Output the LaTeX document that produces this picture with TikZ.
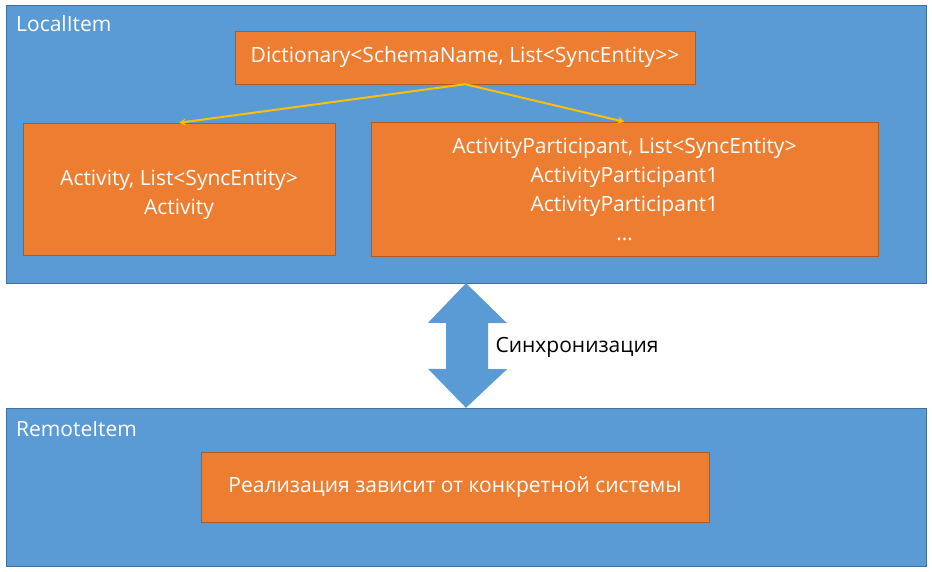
\documentclass[tikz,border=0pt]{standalone}
\usepackage{fontspec}
\setmainfont{Open Sans}
\usepackage{tikz}
\usetikzlibrary{positioning}

\definecolor{itemblue}{HTML}{5B9BD5}
\definecolor{itemblueline}{HTML}{41719C}
\definecolor{boxorange}{HTML}{ED7D31}
\definecolor{boxorangeline}{HTML}{AE5A21}
\definecolor{linkyellow}{HTML}{FFC000}

\begin{document}
\begin{tikzpicture}[x=1pt, y=-1pt, >=stealth,
  item/.style={draw=itemblueline, fill=itemblue, inner sep=0pt},
  entry/.style={draw=boxorangeline, fill=boxorange, inner sep=0pt, text=white, align=center, font=\fontsize{21}{29}\selectfont},
  title/.style={anchor=west, text=white, inner sep=0pt, font=\fontsize{21}{24}\selectfont},
  link/.style={->, linkyellow, line width=2pt}]
  \useasboundingbox (0,0) rectangle (932,572);

  % Draw outer items
  \node[item, minimum width=920, minimum height=278] (local) at (466,144) {};
  \node[item, minimum width=920, minimum height=158] (remote) at (466,487) {};
  \node[title] (localname) at (16,24) {LocalItem};
  \node[title] (remotename) at (16,429) {RemoteItem};

  % Draw dictionary and its entries
  \node[entry, minimum width=460, minimum height=53] (dict) at (465,57.5) {Dictionary<SchemaName, List<SyncEntity>{}>};
  \node[entry, minimum width=312, minimum height=132] (activity) at (179,189) {\rule{0pt}{27pt}Activity, List<SyncEntity>\\Activity};
  \node[entry, minimum width=507, minimum height=134] (participant) at (624.5,189) {ActivityParticipant, List<SyncEntity>\\ActivityParticipant1\\ActivityParticipant1\\\ldots};
  \node[entry, minimum width=508, minimum height=70] (impl) at (455,487) {Реализация зависит от конкретной системы};

  % Links from dictionary
  \draw[link] (dict.south) -- (activity.north);
  \draw[link] (dict.south) -- (participant.north);

  % Double arrow between items
  \coordinate (top) at (local.south);
  \coordinate (bottom) at (remote.north);
  \fill[itemblue] (top) -- ++(41,40) -- ++(-19,0) -- ++(0,46) -- ++(19,0)
    -- (bottom) -- ++(-38,-39) -- ++(18,0) -- ++(0,-46) -- ++(-18,0) -- cycle;
  \node[anchor=west, font=\fontsize{21}{24}\selectfont] (sync) at (492,347) {Синхронизация};

\end{tikzpicture}
\end{document}
